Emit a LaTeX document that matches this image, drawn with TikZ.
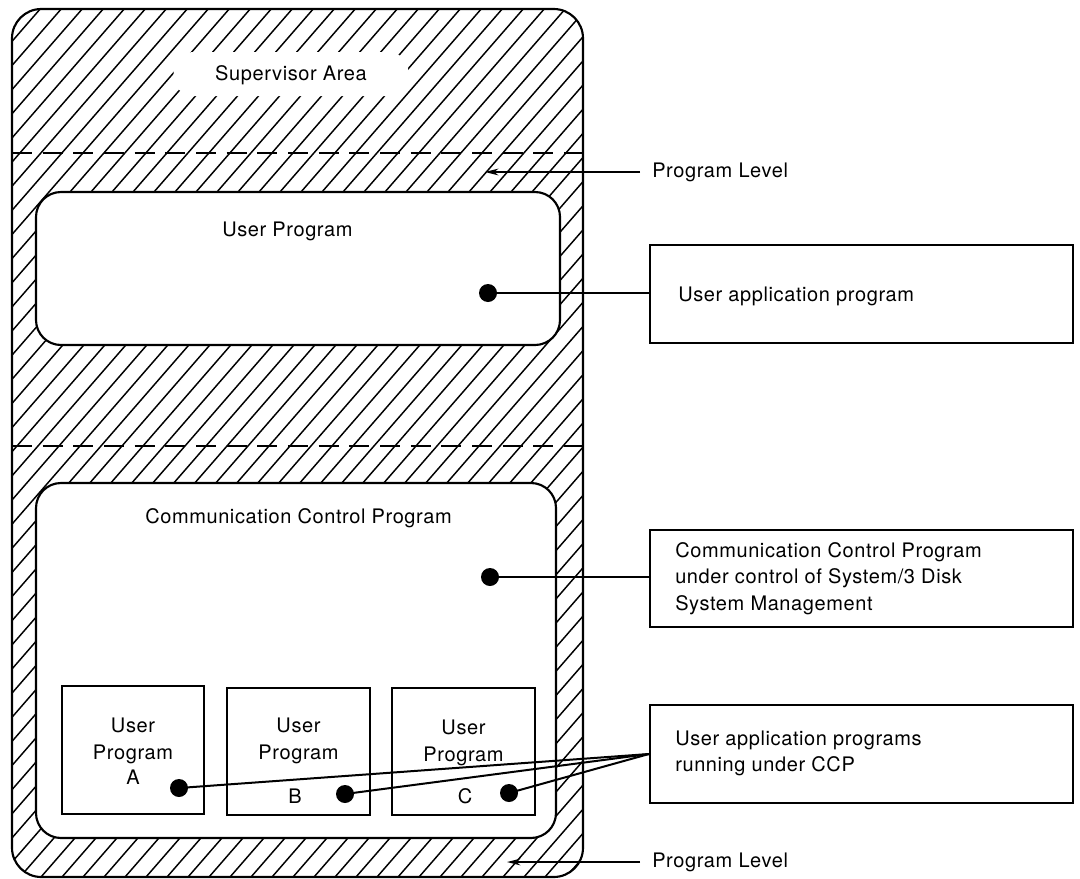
\documentclass[tikz,border=0pt]{standalone}
\usepackage{fontspec}
\setmainfont{TeX Gyre Heros}[LetterSpace=3]
\usetikzlibrary{arrows.meta}
\begin{document}
\begin{tikzpicture}[x=0.75pt,y=-0.75pt,
  lbl/.style={font=\fontsize{15pt}{18pt}\selectfont, inner sep=0pt},
  frame/.style={draw, line width=1.6pt, fill=white, inner sep=0pt},
  hatch/.style={line width=1.1pt},
  dashline/.style={line width=1.4pt, dash pattern=on 15pt off 8pt},
  dotnode/.style={circle, fill, inner sep=0pt, minimum size=13.5pt},
  conn/.style={line width=1.5pt},
  lvlarrow/.style={line width=1.3pt, -{Stealth[length=10pt,width=5pt,inset=3pt]}}
]
\useasboundingbox (0,0) rectangle (1080,878);
% hatching of the storage area
\begin{scope}
  \clip[rounded corners=22pt] (12,9) rectangle (583,877);
  \foreach \i in {-40,...,30} \draw[hatch] (\i*21,900) -- ++(783,-900);
\end{scope}
\draw[line width=1.6pt, rounded corners=22pt] (12,9) rectangle (583,877);
% dashed partition lines
\draw[dashline] (12,153) -- (583,153);
\draw[dashline] (12,446) -- (583,446);
% supervisor area
\node[fill=white, rounded corners=15pt, minimum width=176pt, minimum height=33pt] (supclear) at (291,74) {};
\node[lbl, anchor=base] (suptext) at (291,80) {Supervisor Area};
% user program partition
\node[frame, rounded corners=18.75pt, minimum width=393pt, minimum height=114.75pt] (userprog) at (298,268.5) {};
\node[lbl, anchor=base west] (userprogtext) at (222,236) {User Program};
% CCP partition
\node[frame, rounded corners=18.75pt, minimum width=390pt, minimum height=266.25pt] (ccp) at (296,660.5) {};
\node[lbl, anchor=base west] (ccptext) at (145,523) {Communication Control Program};
% small user program boxes
\node[frame, minimum width=106.5pt, minimum height=96pt] (boxA) at (133,750) {};
\node[frame, minimum width=107.25pt, minimum height=95.25pt] (boxB) at (298.5,751.5) {};
\node[frame, minimum width=107.25pt, minimum height=95.25pt] (boxC) at (463.5,751.5) {};
\node[lbl, anchor=base] (a1) at (133,732) {User};
\node[lbl, anchor=base] (a2) at (133,759) {Program};
\node[lbl, anchor=base] (a3) at (133,784) {A};
\node[lbl, anchor=base] (b1) at (298.5,732) {User};
\node[lbl, anchor=base] (b2) at (298.5,759) {Program};
\node[lbl, anchor=base] (b3) at (295,803) {B};
\node[lbl, anchor=base] (c1) at (463.5,734) {User};
\node[lbl, anchor=base] (c2) at (463.5,761) {Program};
\node[lbl, anchor=base] (c3) at (465,803) {C};
% right-hand explanation boxes
\node[frame, minimum width=317.25pt, minimum height=73.5pt] (app1) at (861.5,294) {};
\node[lbl, anchor=base west] (app1t) at (678,301) {User application program};
\node[frame, minimum width=317.25pt, minimum height=72.75pt] (app2) at (861.5,578.5) {};
\node[lbl, anchor=base west] (app2t1) at (675,557) {Communication Control Program};
\node[lbl, anchor=base west] (app2t2) at (675,583) {under control of System/3 Disk};
\node[lbl, anchor=base west] (app2t3) at (675,610) {System Management};
\node[frame, minimum width=317.25pt, minimum height=73.5pt] (app3) at (861.5,754) {};
\node[lbl, anchor=base west] (app3t1) at (675,745) {User application programs};
\node[lbl, anchor=base west] (app3t2) at (675,771) {running under CCP};
% dots and connectors
\node[dotnode] (d1) at (488,293) {};
\node[dotnode] (d2) at (490,577) {};
\node[dotnode] (dA) at (179,788) {};
\node[dotnode] (dB) at (345,794) {};
\node[dotnode] (dC) at (509,793) {};
\draw[conn] (d1.center) -- (d1 -| app1.west);
\draw[conn] (d2.center) -- (d2 -| app2.west);
\draw[conn] (dA.center) -- (app3.west);
\draw[conn] (dB.center) -- (app3.west);
\draw[conn] (dC.center) -- (app3.west);
% program level arrows
\node[lbl, anchor=west, inner xsep=9pt] (lvl1) at (640,172) {Program Level};
\coordinate (lvl1tip) at (485,172);
\draw[lvlarrow] (lvl1.west) -- (lvl1tip);
\node[lbl, anchor=west, inner xsep=9pt] (lvl2) at (640,862) {Program Level};
\coordinate (lvl2tip) at (507,862);
\draw[lvlarrow] (lvl2.west) -- (lvl2tip);
\end{tikzpicture}
\end{document}
